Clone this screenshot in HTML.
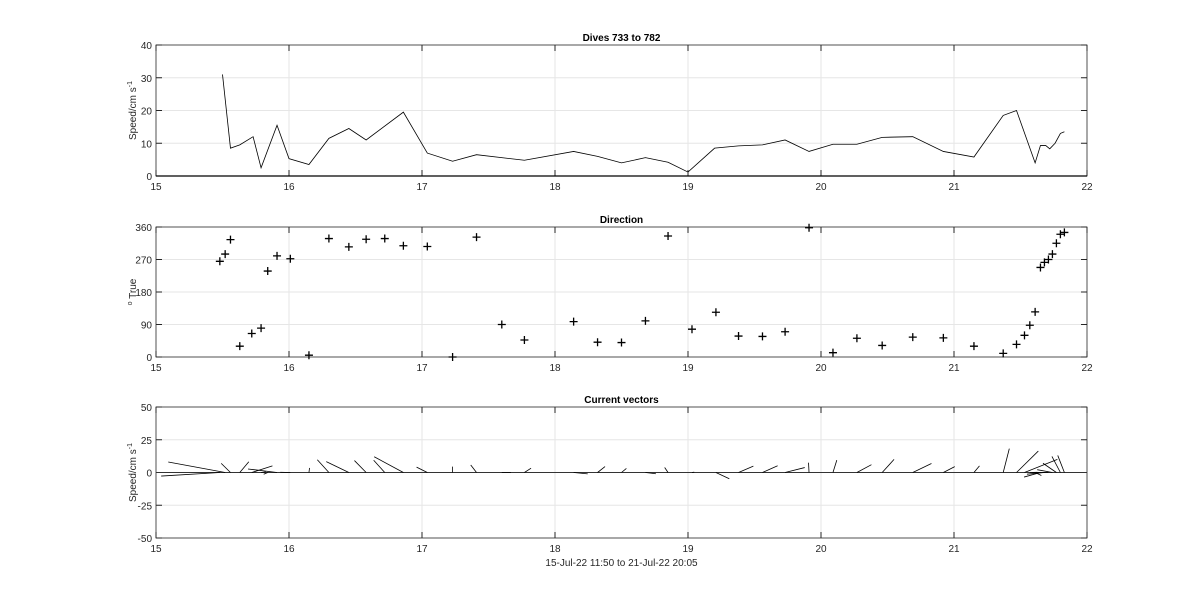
<!DOCTYPE html>
<html><head><meta charset="utf-8"><style>
body{margin:0;background:#fff;}
svg text{font-family:"Liberation Sans",sans-serif;}
</style></head><body>
<svg id="c" width="1200" height="605" xmlns="http://www.w3.org/2000/svg"></svg>
<script>
const speedTimes=[15.5,15.56,15.63,15.73,15.79,15.91,16.0,16.15,16.3,16.45,16.58,16.86,17.04,17.23,17.41,17.77,18.14,18.32,18.5,18.68,18.85,19.0,19.2,19.38,19.56,19.73,19.91,20.09,20.27,20.46,20.69,20.92,21.15,21.37,21.47,21.61,21.65,21.69,21.72,21.76,21.8,21.83];
const speedVals=[31,8.5,9.5,12,2.5,15.5,5.3,3.5,11.5,14.5,11,19.5,7,4.5,6.5,4.8,7.5,6,4,5.6,4.2,1.2,8.5,9.2,9.5,11,7.5,9.7,9.7,11.8,12,7.5,5.8,18.5,20,4,9.3,9.3,8.3,10,13,13.5];
const dirTimes=[15.48,15.52,15.56,15.63,15.72,15.79,15.84,15.91,16.01,16.15,16.3,16.45,16.58,16.72,16.86,17.04,17.23,17.41,17.6,17.77,18.14,18.32,18.5,18.68,18.85,19.03,19.21,19.38,19.56,19.73,19.91,20.09,20.27,20.46,20.69,20.92,21.15,21.37,21.47,21.53,21.57,21.61,21.65,21.68,21.71,21.74,21.77,21.8,21.83];
const dirVals=[265,285,325,30,65,80,238,280,272,5,328,305,326,328,308,306,0,332,90,47,98,41,40,100,335,77,124,58,57,70,358,12,52,32,55,53,30,10,35,60,88,125,248,262,270,285,315,340,345];
const xTicks=[15,16,17,18,19,20,21,22];
const yTicks1=[0,10,20,30,40];
const yTicks2=[0,90,180,270,360];
const yTicks3=[-50,-25,0,25,50];

const S=document.getElementById('c');const NS='http://www.w3.org/2000/svg';
function el(t,a,p){const e=document.createElementNS(NS,t);for(const k in a)e.setAttribute(k,a[k]);(p||S).appendChild(e);return e;}
const X0=156,X1=1087;
const xs=t=>X0+(t-15)/7*(X1-X0);
function axes(name,top,bot,ymin,ymax,yt,title,ylab,ysup,pre){
  const g=el('g',{});
  
  
  const ys=v=>bot-(v-ymin)/(ymax-ymin)*(bot-top);
  xTicks.forEach(t=>{if(t>15&&t<22)el('line',{x1:xs(t),x2:xs(t),y1:top,y2:bot,stroke:'#e6e6e6'},g);});
  yt.forEach(v=>{if(v>ymin&&v<ymax)el('line',{x1:X0,x2:X1,y1:ys(v),y2:ys(v),stroke:'#e6e6e6'},g);});
  el('rect',{x:X0,y:top,width:X1-X0,height:bot-top,fill:'none',stroke:'#262626','stroke-width':0.8},g);
  xTicks.forEach(t=>{el('line',{x1:xs(t),x2:xs(t),y1:bot,y2:bot-6,stroke:'#262626'},g);el('line',{x1:xs(t),x2:xs(t),y1:top,y2:top+6,stroke:'#262626'},g);
    const tx=el('text',{x:xs(t),y:bot+14,'font-size':10,'text-anchor':'middle',fill:'#262626'},g);tx.textContent=t;});
  yt.forEach(v=>{el('line',{x1:X0,x2:X0+6,y1:ys(v),y2:ys(v),stroke:'#262626'},g);el('line',{x1:X1,x2:X1-6,y1:ys(v),y2:ys(v),stroke:'#262626'},g);
    const tx=el('text',{x:X0-4,y:ys(v)+4,'font-size':10,'text-anchor':'end',fill:'#262626'},g);tx.textContent=v;});
  const ti=el('text',{x:(X0+X1)/2,y:top-4,'font-size':10,'font-weight':'bold','text-anchor':'middle',fill:'#000'},g);ti.textContent=title;
  
  const cy=(top+bot)/2;
  const yl=el('text',{x:0,y:0,'font-size':10,'text-anchor':'middle',fill:'#262626',transform:`translate(136,${cy}) rotate(-90)`},g);
  
  yl.innerHTML=(pre?'<tspan font-size="7" dy="-4">'+pre+'</tspan><tspan dy="4"> </tspan>':'')+ylab+(ysup?'<tspan dy="-4" font-size="7">'+ysup+'</tspan>':'');
  return ys;
}
const ys1=axes('speed-panel',45,176,0,40,yTicks1,'Dives 733 to 782','Speed/cm s','-1','');
const pl=el('polyline',{points:speedTimes.map((t,i)=>xs(t)+','+ys1(speedVals[i])).join(' '),fill:'none',stroke:'#000','stroke-width':0.8});

el('line',{x1:X0,x2:X1,y1:ys1(0),y2:ys1(0),stroke:'#000','stroke-width':1.2});
const ys2=axes('direction-panel',227,357,0,360,yTicks2,'Direction','True','','o');
dirTimes.forEach((t,i)=>{const x=xs(t),y=ys2(dirVals[i]);
  const p=el('path',{d:`M${x-4},${y}H${x+4}M${x},${y-4}V${y+4}`,stroke:'#000','stroke-width':1.3});
  });
const ys3=axes('vector-panel',407,538,-50,50,yTicks3,'Current vectors','Speed/cm s','-1','');
el('line',{x1:X0,x2:X1,y1:ys3(0),y2:ys3(0),stroke:'#333'});
function spAt(t){let b=0;speedTimes.forEach((s,i)=>{if(Math.abs(s-t)<Math.abs(speedTimes[b]-t))b=i;});return speedVals[b];}
dirTimes.forEach((t,i)=>{const s=spAt(t),d=dirVals[i]*Math.PI/180;const u=s*Math.sin(d),v=s*Math.cos(d);
  const x=xs(t),y=ys3(0);
  const l=el('line',{x1:x,y1:y,x2:x+u*1.9,y2:ys3(v),stroke:'#000','stroke-width':0.8});
  });
const xl=el('text',{x:(X0+X1)/2,y:566,'font-size':10,'text-anchor':'middle',fill:'#262626'});
xl.textContent='15-Jul-22 11:50 to 21-Jul-22 20:05';

</script>
</body></html>
